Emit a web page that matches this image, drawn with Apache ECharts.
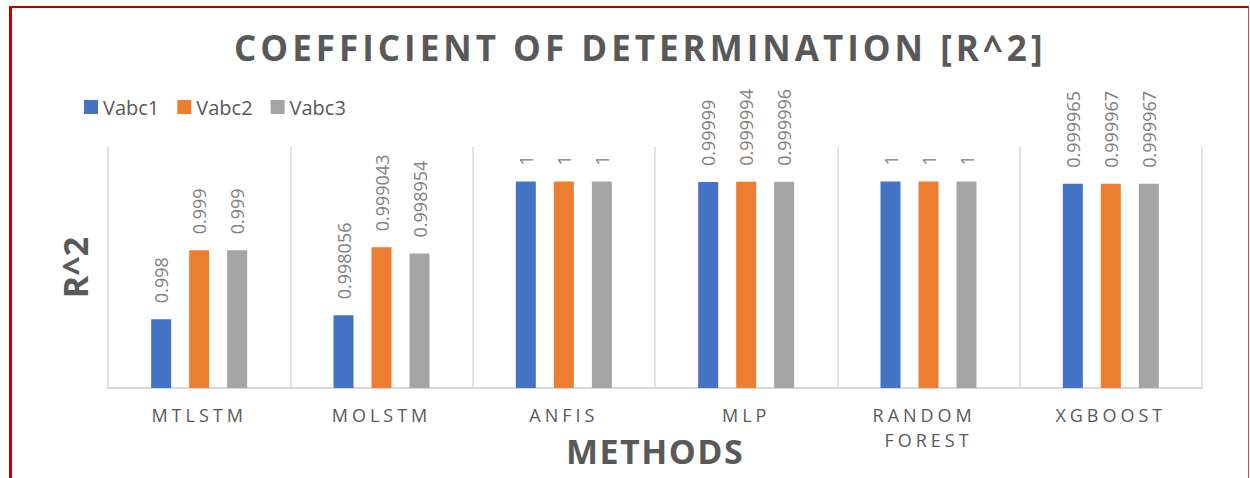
<!DOCTYPE html>
<html>
<head>
<meta charset="utf-8">
<title>Coefficient of Determination [R^2]</title>
<script src="https://cdn.jsdelivr.net/npm/echarts@6/dist/echarts.min.js"></script>
<style>
  html, body { margin: 0; padding: 0; background: #ffffff; }
  #wrap { position: relative; width: 1250px; height: 478px; overflow: hidden; }
  #chart { position: absolute; left: 0; top: 0; width: 1250px; height: 478px; }
  #frame {
    position: absolute; left: 9px; top: 6px; width: 1236px; height: 490px;
    border-top: 2px solid #C00000; border-left: 3px solid #C00000; border-right: 1px solid #C0504D;
    pointer-events: none;
  }
  /* tracked lettering for the title, category labels and axis names */
  #chart svg text[style*="DejaVu"] { letter-spacing: 4px; }
  #chart svg text[style*="Lato"] { letter-spacing: 4px; }
  #chart svg text[style*="Roboto"] { letter-spacing: 1.5px; }
</style>
</head>
<body>
<div id="wrap">
  <div id="chart"></div>
  <div id="frame"></div>
</div>
<script>
// Methods compared on the x axis
const categories = ['MTLSTM', 'MOLSTM', 'ANFIS', 'MLP', 'RANDOM FOREST', 'XGBOOST'];

// R^2 per method for each output
const vabc1 = [0.998, 0.998056, 1, 0.99999, 1, 0.999965];
const vabc2 = [0.999, 0.999043, 1, 0.999994, 1, 0.999967];
const vabc3 = [0.999, 0.998954, 1, 0.999996, 1, 0.999967];

const seriesNames = ['Vabc1', 'Vabc2', 'Vabc3'];
const seriesColors = ['#4472C4', '#ED7D31', '#A5A5A5'];
const seriesValues = [vabc1, vabc2, vabc3];

const FONT = '"Open Sans", "Liberation Sans", sans-serif';
const TITLE_FONT = '"Open Sans", "DejaVu Sans", sans-serif';
const CAT_FONT = '"Open Sans", Lato, sans-serif';
const NAME_FONT = '"Open Sans", Roboto, sans-serif';
const TEXT = '#595959';

const chart = echarts.init(document.getElementById('chart'), null, { renderer: 'svg' });

const series = seriesNames.map((name, i) => ({
  name,
  type: 'bar',
  data: seriesValues[i],
  barWidth: 20,
  barGap: '90%',
  itemStyle: { color: seriesColors[i] },
  label: {
    show: true,
    position: 'top',
    rotate: 90,
    align: 'left',
    verticalAlign: 'middle',
    distance: 16,
    color: '#7F7F7F',
    fontFamily: FONT,
    fontSize: 18
  }
}));

chart.setOption({
  animation: false,
  backgroundColor: '#ffffff',
  title: {
    text: 'COEFFICIENT OF DETERMINATION [R^2]',
    left: 229,
    top: 25,
    textStyle: { color: TEXT, fontFamily: TITLE_FONT, fontWeight: 'bold', fontSize: 35 }
  },
  legend: {
    left: 79,
    top: 92,
    icon: 'rect',
    itemWidth: 14,
    itemHeight: 14,
    itemGap: 18,
    textStyle: { color: TEXT, fontFamily: FONT, fontSize: 20 },
    data: seriesNames
  },
  grid: { left: 108, right: 48, top: 147, bottom: 90, containLabel: false, outerBoundsMode: 'none' },
  xAxis: {
    type: 'category',
    data: categories,
    boundaryGap: true,
    name: 'METHODS',
    nameLocation: 'middle',
    nameGap: 46,
    nameMoveOverlap: false,
    nameTextStyle: { color: TEXT, fontFamily: NAME_FONT, fontWeight: 'bold', fontSize: 34 },
    axisLine: { show: true, lineStyle: { color: '#D9D9D9', width: 2 } },
    axisTick: { show: false },
    splitLine: { show: true, lineStyle: { color: '#D9D9D9', width: 1.5 } },
    axisLabel: {
      color: TEXT,
      fontFamily: CAT_FONT,
      fontSize: 18,
      lineHeight: 25,
      margin: 14,
      width: 130,
      overflow: 'break',
      interval: 0
    }
  },
  yAxis: {
    type: 'value',
    min: 0.997,
    max: 1.0005,
    name: 'R^2',
    nameLocation: 'middle',
    nameGap: 16,
    nameRotate: 90,
    nameTextStyle: { color: TEXT, fontFamily: FONT, fontWeight: 'bold', fontSize: 34 },
    axisLine: { show: false },
    axisTick: { show: false },
    axisLabel: { show: false },
    splitLine: { show: false }
  },
  series
});
</script>
</body>
</html>
